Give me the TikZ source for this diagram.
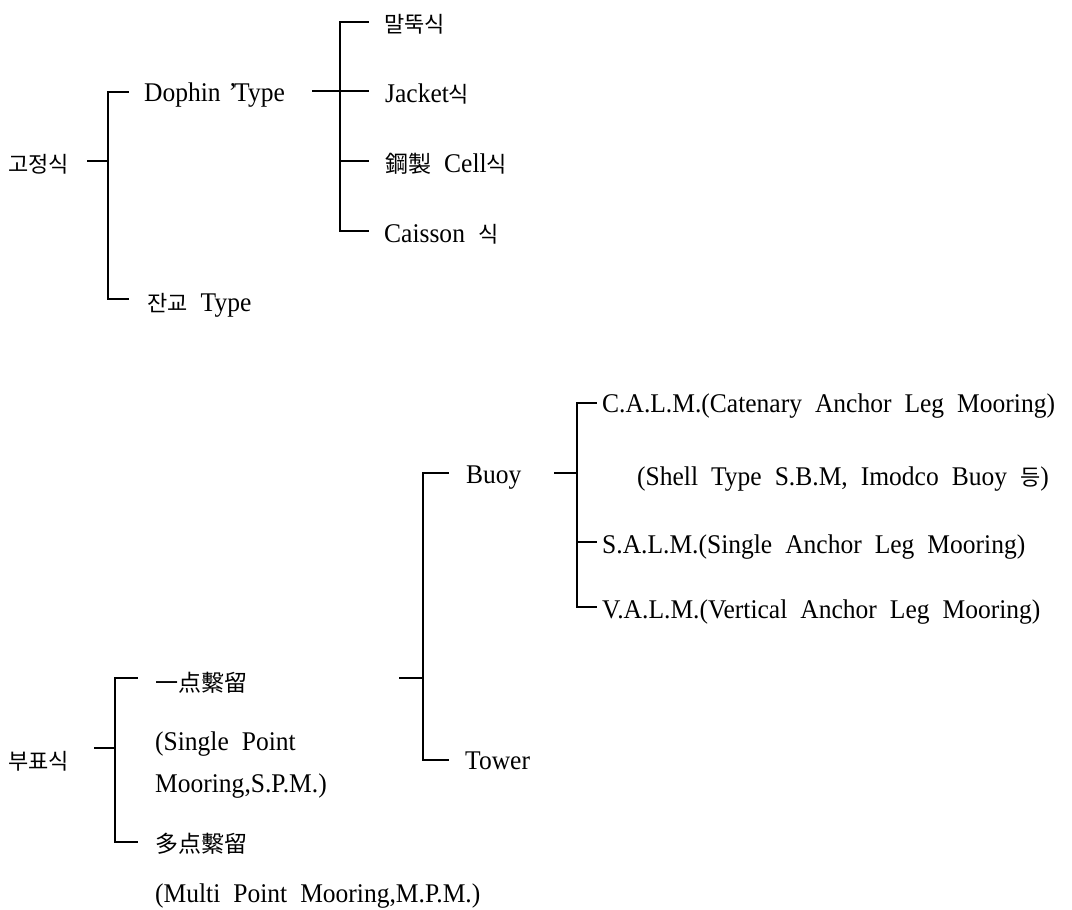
\documentclass[tikz,border=0pt]{standalone}
\usepackage{fontspec}
\setmainfont[FakeStretch=0.945]{Liberation Serif}
\newfontfamily\krfont{Noto Sans CJK KR}
\newcommand{\KoTxt}[1]{{\krfont\fontsize{22}{26}\selectfont #1}}
\newcommand{\HjTxt}[1]{{\krfont\fontsize{23}{27}\selectfont #1}}
\newcommand{\WideSp}{\spaceskip=13pt plus 2pt minus 2pt\relax}
\newcommand{\NarrowSp}{\spaceskip=8pt plus 2pt minus 2pt\relax}
\begin{document}
\begin{tikzpicture}[x=1pt,y=-1pt,
  lbl/.style={anchor=base west,inner sep=0pt,font=\fontsize{27}{32}\selectfont,execute at begin node=\WideSp},
  conn/.style={line width=1.7pt,line join=miter,line cap=rect}]
\useasboundingbox[fill=white] (0,0) rectangle (1072,910);

% ---------- top tree ----------
\node[lbl] (gj) at (8,172) {\KoTxt{고정식}};
\node[lbl] (dol) at (144,101) {\NarrowSp Dophin ’\kern-3pt Type};
\node[lbl] (jg) at (147,311) {\KoTxt{잔교} Type};
\node[lbl] (md) at (384,32) {\KoTxt{말뚝식}};
\node[lbl] (jk) at (385,102) {Jacket\KoTxt{식}};
\node[lbl] (cl) at (385,172) {\HjTxt{鋼製} Cell\KoTxt{식}};
\node[lbl] (cs) at (384,242) {Caisson \KoTxt{식}};

\coordinate (gjS) at (88,161);
\coordinate (gjJ) at (108,161);
\coordinate (t1) at (108,92);
\coordinate (t1e) at (128,92);
\coordinate (t2) at (108,299);
\coordinate (t2e) at (128,299);
\draw[conn] (gjS) -- (gjJ);
\draw[conn] (t1e) -- (t1) -- (t2) -- (t2e);

\coordinate (dS) at (313,91);
\coordinate (dJ) at (340,91);
\coordinate (dE) at (368,91);
\coordinate (u1) at (340,22);
\coordinate (u1e) at (368,22);
\coordinate (u3) at (340,161);
\coordinate (u3e) at (368,161);
\coordinate (u4) at (340,231);
\coordinate (u4e) at (368,231);
\draw[conn] (dS) -- (dE);
\draw[conn] (u1e) -- (u1) -- (u4) -- (u4e);
\draw[conn] (u3) -- (u3e);

% ---------- bottom tree ----------
\node[lbl] (bp) at (8,769) {\KoTxt{부표식}};
\node[lbl] (sp) at (155,691) {\HjTxt{一点繫留}};
\node[lbl] (sp2) at (155,750) {(Single Point};
\node[lbl] (sp3) at (155,792) {Mooring,S.P.M.)};
\node[lbl] (mp) at (155,852) {\HjTxt{多点繫留}};
\node[lbl] (mp2) at (155,902) {(Multi Point Mooring,M.P.M.)};
\node[lbl] (by) at (466,483) {Buoy};
\node[lbl] (tw) at (465,769) {Tower};
\node[lbl] (ca) at (602,412) {C.A.L.M.(Catenary Anchor Leg Mooring)};
\node[lbl] (sh) at (637,485) {(Shell Type S.B.M, Imodco Buoy \KoTxt{등})};
\node[lbl] (sa) at (602,553) {S.A.L.M.(Single Anchor Leg Mooring)};
\node[lbl] (va) at (602,618) {V.A.L.M.(Vertical Anchor Leg Mooring)};

\coordinate (bpS) at (95,748);
\coordinate (bpJ) at (115,748);
\coordinate (b1) at (115,678);
\coordinate (b1e) at (137,678);
\coordinate (b2) at (115,842);
\coordinate (b2e) at (137,842);
\draw[conn] (bpS) -- (bpJ);
\draw[conn] (b1e) -- (b1) -- (b2) -- (b2e);

\coordinate (spS) at (400,678);
\coordinate (spJ) at (423,678);
\coordinate (c1) at (423,473);
\coordinate (c1e) at (448,473);
\coordinate (c2) at (423,760);
\coordinate (c2e) at (448,760);
\draw[conn] (spS) -- (spJ);
\draw[conn] (c1e) -- (c1) -- (c2) -- (c2e);

\coordinate (byS) at (555,473);
\coordinate (byJ) at (577,473);
\coordinate (e1) at (577,403);
\coordinate (e1e) at (596,403);
\coordinate (e3) at (577,542);
\coordinate (e3e) at (596,542);
\coordinate (e4) at (577,607);
\coordinate (e4e) at (596,607);
\draw[conn] (byS) -- (byJ);
\draw[conn] (e1e) -- (e1) -- (e4) -- (e4e);
\draw[conn] (e3) -- (e3e);
\end{tikzpicture}
\end{document}
